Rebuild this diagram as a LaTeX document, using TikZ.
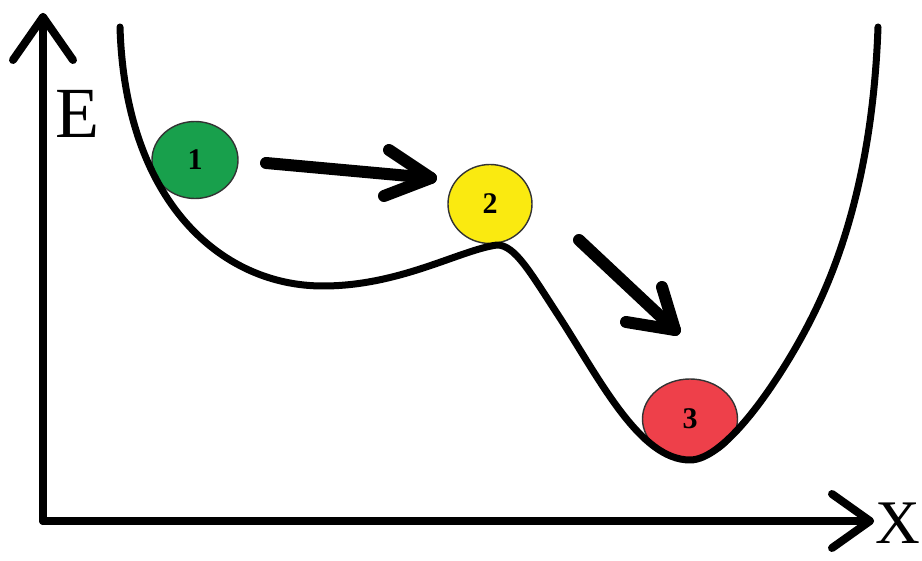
\documentclass[tikz,border=0pt]{standalone}
\usepackage{fontspec}
\setmainfont{Liberation Serif}
\usetikzlibrary{shapes.geometric}
\definecolor{ballgreen}{RGB}{24,160,76}
\definecolor{ballyellow}{RGB}{250,234,16}
\definecolor{ballred}{RGB}{238,64,74}
\tikzset{
  axisline/.style={line width=8pt, line cap=round, line join=round},
  wellcurve/.style={line width=7pt, line cap=round, line join=round},
  movearrow/.style={line width=12pt, line cap=round, line join=round},
  ball/.style={ellipse, draw=black!80, line width=1.4pt, inner sep=0pt,
    font=\bfseries\fontsize{30}{30}\selectfont},
  axislabel/.style={font=\fontsize{72}{72}\selectfont, inner sep=0pt}
}
\begin{document}
\begin{tikzpicture}[x=1pt, y=-1pt]
  \useasboundingbox (0,0) rectangle (922,561);

  % axes
  \coordinate (origin) at (43,521);
  \coordinate (etop) at (43,17);
  \coordinate (xend) at (870,521);
  \draw[axisline] (origin) -- (etop);
  \draw[axisline] (13,60) -- (etop) -- (73,60);
  \draw[axisline] (origin) -- (xend);
  \draw[axisline] (832,494) -- (xend) -- (832,548);
  \node[axislabel] (elabel) at (77,114) {E};
  \node[axislabel, font=\fontsize{62}{62}\selectfont] (xlabel) at (898,523) {X};

  % balls
  \node[ball, fill=ballgreen, minimum width=86pt, minimum height=77pt] (b1) at (195,160) {1};
  \node[ball, fill=ballyellow, minimum width=84pt, minimum height=79pt] (b2) at (490,204) {2};
  \node[ball, fill=ballred, minimum width=95pt, minimum height=80pt] (b3) at (690,419) {3};

  % energy landscape: shallow well, barrier, deep well
  \coordinate (wleft) at (120,27);
  \coordinate (wmin1) at (323,286);
  \coordinate (wpeak) at (497,245);
  \coordinate (wslope) at (560,318);
  \coordinate (wmin2) at (690,460);
  \coordinate (wrise) at (800,340);
  \coordinate (wright) at (878,27);
  \draw[wellcurve] (wleft)
    .. controls (125,200) and (220,286) .. (wmin1)
    .. controls (400,286) and (460,250) .. (wpeak)
    .. controls (515,245) and (530,272) .. (wslope)
    .. controls (600,380) and (640,460) .. (wmin2)
    .. controls (725,460) and (775,385) .. (wrise)
    .. controls (825,295) and (872,200) .. (wright);

  % motion arrows
  \coordinate (a1tail) at (266,163);
  \coordinate (a1tip) at (431,178);
  \draw[movearrow] (a1tail) -- (a1tip);
  \draw[movearrow] (389,150) -- (a1tip) -- (384,196);
  \coordinate (a2tail) at (579,240);
  \coordinate (a2tip) at (675,330);
  \draw[movearrow] (a2tail) -- (a2tip);
  \draw[movearrow] (662,287) -- (a2tip) -- (626,322);
\end{tikzpicture}
\end{document}
